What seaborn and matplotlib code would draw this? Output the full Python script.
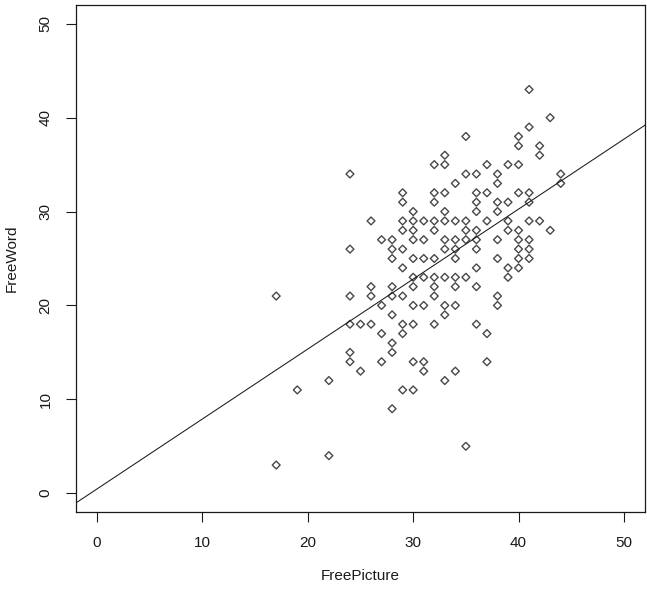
import numpy as np
import pandas as pd
import seaborn as sns
import matplotlib.pyplot as plt

# FreePicture value -> list of FreeWord values
free_picture = [17, 19, 22, 24, 25, 26, 27, 28, 29, 30, 31, 32, 33, 34, 35, 36, 37, 38, 39, 40, 41, 42, 43, 44]
free_word = [
    [21, 3],
    [11],
    [12, 4],
    [34, 26, 21, 18, 15, 14],
    [18, 13],
    [29, 22, 21, 18],
    [27, 20, 17, 14],
    [27, 26, 25, 22, 21, 19, 16, 15, 9],
    [32, 31, 29, 28, 26, 24, 21, 18, 17, 11],
    [30, 29, 28, 27, 25, 23, 22, 20, 18, 14, 11],
    [29, 27, 25, 23, 20, 14, 13],
    [35, 32, 31, 29, 28, 25, 23, 22, 21, 18],
    [36, 35, 32, 30, 29, 27, 26, 23, 20, 19, 12],
    [33, 29, 27, 26, 25, 23, 22, 20, 13],
    [38, 34, 29, 28, 27, 23, 5],
    [34, 32, 31, 30, 28, 27, 26, 24, 22, 18],
    [35, 32, 29, 17, 14],
    [34, 33, 31, 30, 27, 25, 21, 20],
    [35, 31, 29, 28, 24, 23],
    [38, 37, 35, 32, 28, 27, 26, 25, 24],
    [43, 39, 32, 31, 29, 27, 26, 25],
    [37, 36, 29],
    [40, 28],
    [34, 33],
]
ticks = [0, 10, 20, 30, 40, 50]

# fitted line as drawn in the chart (abline)
intercept = 0.46
slope = 0.745

rows = [(xv, yv) for xv, ys in zip(free_picture, free_word) for yv in ys]
df = pd.DataFrame(rows, columns=["FreePicture", "FreeWord"])

sns.set_style("white")
plt.rcParams['font.family'] = ['Liberation Sans', 'DejaVu Sans']
ink = "#1a1a1a"

fig = plt.figure(figsize=(6.47, 5.89), dpi=100)
ax = fig.add_axes([76 / 647, 77 / 589, 569 / 647, 507 / 589])

sns.regplot(data=df, x="FreePicture", y="FreeWord", ax=ax, fit_reg=False,
            marker="D", color=ink,
            scatter_kws=dict(s=16, facecolor="none", edgecolor=ink, linewidths=1.0))
ax.axline((0, intercept), slope=slope, color=ink, lw=0.75)

ax.set_xlim(-2, 52)
ax.set_ylim(-2, 52)
ax.set_xticks(ticks)
ax.set_yticks(ticks)
ax.tick_params(direction="out", length=7, width=0.8, color=ink, labelcolor=ink,
               labelsize=11, pad=10, bottom=True, left=True)
for lab in ax.get_yticklabels():
    lab.set_rotation(90)
    lab.set_va("center")
for sp in ax.spines.values():
    sp.set_color(ink)
    sp.set_linewidth(0.9)
ax.set_xlabel("FreePicture", fontsize=11, color=ink, labelpad=14)
ax.set_ylabel("FreeWord", fontsize=11, color=ink, labelpad=14)

fig.savefig("out.png", dpi=100)
